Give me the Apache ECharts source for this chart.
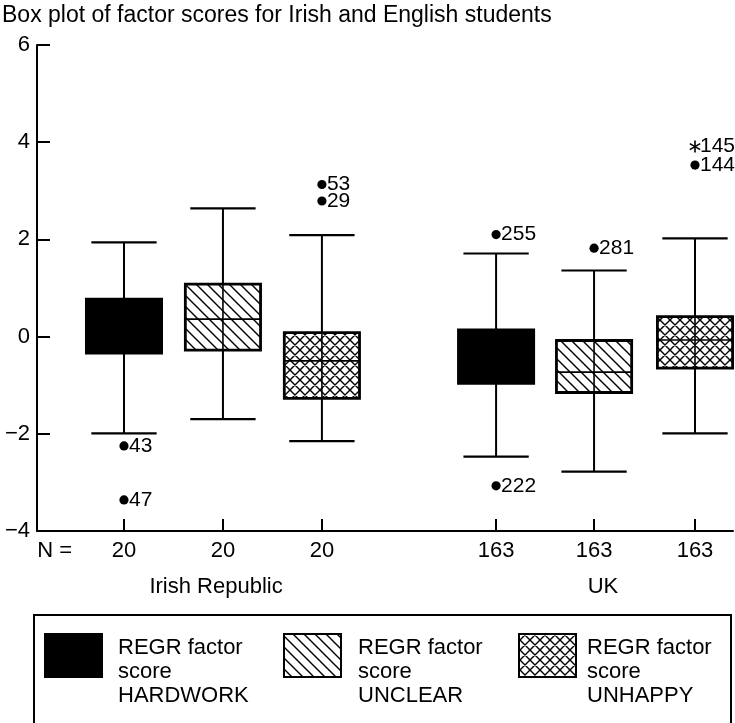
<!DOCTYPE html>
<html><head><meta charset="utf-8">
<script src="https://cdn.jsdelivr.net/npm/echarts@6/dist/echarts.min.js"></script>
<style>html,body{margin:0;padding:0;background:#fff}#c{width:735px;height:723px}</style>
</head><body><div id="c"></div>
<script>
// ---------- data ----------
const titleText = 'Box plot of factor scores for Irish and English students';
const groups = ['Irish Republic', 'UK'];
const factors = ['HARDWORK', 'UNCLEAR', 'UNHAPPY'];
const legendPrefix = 'REGR factor\nscore\n';
const boxGroup = [0, 0, 0, 1, 1, 1];
const boxFactor = [0, 1, 2, 0, 1, 2];
const nCounts = [20, 20, 20, 163, 163, 163];
const whiskerLow = [-1.99, -1.70, -2.15, -2.47, -2.78, -1.99];
const q1 = [-0.34, -0.28, -1.27, -0.96, -1.15, -0.65];
const median = [0.20, 0.36, -0.50, -0.40, -0.73, -0.07];
const q3 = [0.77, 1.08, 0.08, 0.14, -0.08, 0.41];
const whiskerHigh = [1.94, 2.64, 2.09, 1.71, 1.36, 2.02];
const outlierBox = [0, 0, 2, 2, 3, 3, 4, 5, 5];
const outlierValue = [-2.25, -3.36, 3.13, 2.79, 2.10, -3.07, 1.82, 3.91, 3.53];
const outlierId = ['43', '47', '53', '29', '255', '222', '281', '145', '144'];
const outlierKind = ['o', 'o', 'o', 'o', 'o', 'o', 'o', '*', 'o'];
const yTickLabels = [-4, -2, 0, 2, 4, 6];

// ---------- layout ----------
const slotPos = [1, 2, 3, 4.76, 5.75, 6.77];
const groupLabelPos = [1.93, 5.84];
const nLabelPos = 0.30;
const X_MIN = 0.121, X_MAX = 7.154;
const BOX_W = 0.76, CAP_W = 0.66;
const FONT = '"Liberation Sans", Arial, Helvetica, sans-serif';

function makePattern(kind) {
  const s = kind === 'cross' ? 10 : 11;
  const c = document.createElement('canvas');
  c.width = s; c.height = s;
  const g = c.getContext('2d');
  g.fillStyle = '#fff'; g.fillRect(0, 0, s, s);
  g.strokeStyle = '#000'; g.lineWidth = 1.4;
  g.beginPath();
  g.moveTo(-1, -1); g.lineTo(s + 1, s + 1);
  g.moveTo(-1, s - 1); g.lineTo(1, s + 1);
  g.moveTo(s - 1, -1); g.lineTo(s + 1, 1);
  if (kind === 'cross') {
    g.moveTo(-1, s + 1); g.lineTo(s + 1, -1);
    g.moveTo(-1, 1); g.lineTo(1, -1);
    g.moveTo(s - 1, s + 1); g.lineTo(s + 1, s - 1);
  }
  g.stroke();
  return c;
}
const fills = ['#000',
  { image: makePattern('diag'), repeat: 'repeat' },
  { image: makePattern('cross'), repeat: 'repeat' }];

const boxData = slotPos.map((p, i) => [p, whiskerLow[i], q1[i], median[i], q3[i], whiskerHigh[i], boxFactor[i]]);
const outData = outlierValue.map((v, k) => [slotPos[outlierBox[k]], v, k]);

const chart = echarts.init(document.getElementById('c'), null, { renderer: 'canvas' });

const legendGraphics = [{
  type: 'rect', shape: { x: 34, y: 615, width: 697, height: 140 },
  style: { fill: 'none', stroke: '#000', lineWidth: 2 }
}];
const legendX = [45, 284, 519];
const legendTextX = [118, 358, 587];
factors.forEach((f, i) => {
  legendGraphics.push({
    type: 'rect', shape: { x: legendX[i], y: 634, width: 57, height: 43 },
    style: { fill: fills[i], stroke: '#000', lineWidth: 2 }
  });
  legendGraphics.push({
    type: 'text', x: legendTextX[i], y: 636,
    style: { text: legendPrefix + f, font: '22px ' + FONT, fill: '#000', lineHeight: 24, verticalAlign: 'top' }
  });
});

chart.setOption({
  animation: false,
  backgroundColor: '#fff',
  title: {
    text: titleText, left: 2, top: 4, padding: 0,
    textStyle: { fontSize: 23, fontWeight: 'normal', color: '#000', fontFamily: FONT }
  },
  grid: { left: 37, right: 2, top: 45, bottom: 192, containLabel: false, outerBoundsMode: 'none' },
  xAxis: [{
    type: 'value', min: X_MIN, max: X_MAX, position: 'bottom',
    splitLine: { show: false },
    axisLine: { show: true, onZero: false, lineStyle: { color: '#000', width: 2 } },
    axisTick: { show: true, inside: true, length: 12, customValues: slotPos, lineStyle: { color: '#000', width: 2 } },
    axisLabel: {
      show: true, margin: 9, fontSize: 22, color: '#000', fontFamily: FONT,
      customValues: [nLabelPos].concat(slotPos),
      formatter: v => {
        if (Math.abs(v - nLabelPos) < 1e-6) return 'N =';
        const idx = slotPos.findIndex(p => Math.abs(p - v) < 1e-6);
        return idx >= 0 ? String(nCounts[idx]) : '';
      }
    }
  }, {
    type: 'value', min: X_MIN, max: X_MAX, position: 'bottom', offset: 0,
    splitLine: { show: false }, axisLine: { show: false, onZero: false }, axisTick: { show: false },
    axisLabel: {
      show: true, margin: 45, fontSize: 22, color: '#000', fontFamily: FONT,
      customValues: groupLabelPos,
      formatter: v => {
        const idx = groupLabelPos.findIndex(p => Math.abs(p - v) < 1e-6);
        return idx >= 0 ? groups[idx] : '';
      }
    }
  }],
  yAxis: {
    type: 'value', min: -4, max: 6, interval: 2,
    splitLine: { show: false },
    axisLine: { show: true, onZero: false, lineStyle: { color: '#000', width: 2 } },
    axisTick: { show: true, inside: true, length: 13, lineStyle: { color: '#000', width: 2 } },
    axisLabel: {
      margin: 7, fontSize: 22, color: '#000', fontFamily: FONT,
      customValues: yTickLabels,
      formatter: v => (v < 0 ? '\u2212' + Math.abs(v) : String(v))
    }
  },
  series: [{
    type: 'custom', xAxisIndex: 0, yAxisIndex: 0,
    data: boxData,
    encode: { x: 0, y: [1, 2, 3, 4, 5] },
    renderItem(params, api) {
      const x = api.value(0);
      const pLow = api.coord([x, api.value(1)]);
      const pQ1 = api.coord([x, api.value(2)]);
      const pMed = api.coord([x, api.value(3)]);
      const pQ3 = api.coord([x, api.value(4)]);
      const pHigh = api.coord([x, api.value(5)]);
      const f = api.value(6);
      const bw = api.size([BOX_W, 0])[0];
      const cw = api.size([CAP_W, 0])[0];
      const cx = pLow[0];
      const line = (x1, y1, x2, y2, w) => ({ type: 'line', shape: { x1, y1, x2, y2 }, style: { stroke: '#000', lineWidth: w } });
      return {
        type: 'group',
        children: [
          line(cx, pHigh[1], cx, pLow[1], 2),
          line(cx - cw / 2, pHigh[1], cx + cw / 2, pHigh[1], 2.2),
          line(cx - cw / 2, pLow[1], cx + cw / 2, pLow[1], 2.2),
          { type: 'rect', shape: { x: cx - bw / 2, y: pQ3[1], width: bw, height: pQ1[1] - pQ3[1] }, style: { fill: fills[f] } },
          line(cx, pQ3[1], cx, pQ1[1], 1.6),
          line(cx - bw / 2, pMed[1], cx + bw / 2, pMed[1], 1.6),
          { type: 'rect', shape: { x: cx - bw / 2, y: pQ3[1], width: bw, height: pQ1[1] - pQ3[1] }, style: { fill: 'none', stroke: '#000', lineWidth: 2.8 } }
        ]
      };
    }
  }, {
    type: 'custom', xAxisIndex: 0, yAxisIndex: 0,
    data: outData,
    encode: { x: 0, y: 1 },
    renderItem(params, api) {
      const k = api.value(2);
      const p = api.coord([api.value(0), api.value(1)]);
      const children = [];
      if (outlierKind[k] === '*') {
        const r = 6;
        for (let a = 0; a < 3; a++) {
          const ang = Math.PI / 2 + a * Math.PI / 3;
          children.push({ type: 'line', shape: { x1: p[0] - r * Math.cos(ang), y1: p[1] - r * Math.sin(ang), x2: p[0] + r * Math.cos(ang), y2: p[1] + r * Math.sin(ang) }, style: { stroke: '#000', lineWidth: 1.6 } });
        }
      } else {
        children.push({ type: 'circle', shape: { cx: p[0], cy: p[1], r: 4.6 }, style: { fill: '#000' } });
      }
      children.push({ type: 'text', x: p[0] + 5, y: p[1], style: { text: outlierId[k], font: '21px ' + FONT, fill: '#000', verticalAlign: 'middle', align: 'left' } });
      return { type: 'group', children };
    }
  }],
  graphic: legendGraphics
});
</script>
</body></html>
